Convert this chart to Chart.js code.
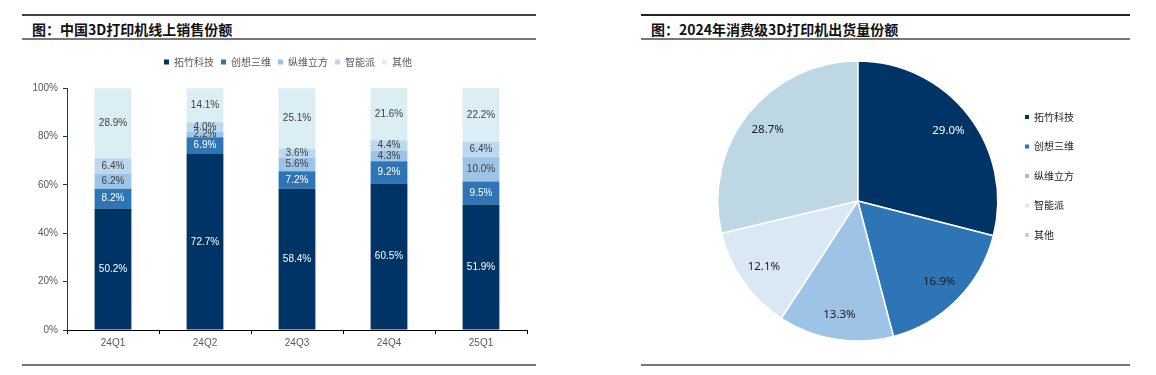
<!DOCTYPE html>
<html>
<head>
<meta charset="utf-8">
<script src="https://cdn.jsdelivr.net/npm/chart.js@4.4.1/dist/chart.umd.min.js"></script>
<style>
  body { margin: 0; width: 1156px; height: 375px; background: #fff; position: relative; overflow: hidden; font-family: "Noto Sans CJK SC", sans-serif; }
  .rule { position: absolute; height: 2px; }
  .title { position: absolute; font-weight: bold; font-size: 14px; line-height: 16px; color: #111; white-space: nowrap; }
  canvas { position: absolute; }
</style>
</head>
<body>
<!-- 左图标题栏 -->
<div class="rule" style="left:22px; width:514px; top:14px; background:#444"></div>
<div class="title" style="left:32px; top:21px">图：中国3D打印机线上销售份额</div>
<div class="rule" style="left:22px; width:514px; top:38px; background:#777"></div>
<div class="rule" style="left:22px; width:514px; top:364px; background:#777"></div>

<!-- 右图标题栏 -->
<div class="rule" style="left:641px; width:489px; top:14px; background:#222"></div>
<div class="title" style="left:651px; top:21px">图：2024年消费级3D打印机出货量份额</div>
<div class="rule" style="left:641px; width:489px; top:38px; background:#777"></div>
<div class="rule" style="left:641px; width:489px; top:364px; background:#777"></div>

<canvas id="barChart" width="560" height="375" style="left:0; top:0"></canvas>
<canvas id="pieChart" width="456" height="300" style="left:700px; top:55px"></canvas>

<script>
// ==================== 数据 ====================

// 线上销售份额（%）
const quarters = ['24Q1', '24Q2', '24Q3', '24Q4', '25Q1']
const brands = ['拓竹科技', '创想三维', '纵维立方', '智能派', '其他']
const bambuShare = [50.2, 72.7, 58.4, 60.5, 51.9]
const crealityShare = [8.2, 6.9, 7.2, 9.2, 9.5]
const anycubicShare = [6.2, 2.2, 5.6, 4.3, 10.0]
const elegooShare = [6.4, 4.0, 3.6, 4.4, 6.4]
const otherShare = [28.9, 14.1, 25.1, 21.6, 22.2]
const yMax = 100
const yStep = 20

// 2024年消费级出货量份额（%）
const shipmentShare = [29.0, 16.9, 13.3, 12.1, 28.7]

// 配色
const BAR_COLORS = ['#003366', '#2e75b6', '#9dc3e6', '#bdd7ee', '#daeef3']
const PIE_COLORS = ['#003366', '#2e75b6', '#9dc3e6', '#dae8f5', '#bdd7e4']

const AXIS_FONT = { family: '"Liberation Sans", Arial, sans-serif', size: 10 }
const CJK_FONT = '"Noto Sans CJK SC", sans-serif'

// ==================== 标签插件 ====================

// 柱内数值标签
const barValueLabels = {
  id: 'barValueLabels',
  afterDatasetsDraw(chart) {
    const ctx = chart.ctx
    ctx.save()
    ctx.font = '10px "Liberation Sans", Arial, sans-serif'
    ctx.textAlign = 'center'
    ctx.textBaseline = 'middle'
    chart.data.datasets.forEach((ds, i) => {
      chart.getDatasetMeta(i).data.forEach((bar, j) => {
        const { x, y, base } = bar.getProps(['x', 'y', 'base'], true)
        ctx.fillStyle = i < 2 ? '#ffffff' : '#404040'
        ctx.fillText(ds.data[j].toFixed(1) + '%', x, (y + base) / 2)
      })
    })
    ctx.restore()
  }
}

// 饼图数值标签
const pieValueLabels = {
  id: 'pieValueLabels',
  afterDatasetsDraw(chart) {
    const ctx = chart.ctx
    const ds = chart.data.datasets[0]
    ctx.save()
    ctx.font = '11.5px "Noto Sans", "Open Sans", sans-serif'
    ctx.textAlign = 'center'
    ctx.textBaseline = 'middle'
    chart.getDatasetMeta(0).data.forEach((arc, i) => {
      const { x, y, startAngle, endAngle, outerRadius } =
        arc.getProps(['x', 'y', 'startAngle', 'endAngle', 'outerRadius'], true)
      const mid = (startAngle + endAngle) / 2
      const r = outerRadius * 0.82
      ctx.fillStyle = i === 0 ? '#ffffff' : '#1a1a1a'
      ctx.fillText(ds.data[i].toFixed(1) + '%', x + Math.cos(mid) * r, y + Math.sin(mid) * r)
    })
    ctx.restore()
  }
}

// ==================== 左图：堆积柱状图 ====================

const barSeries = [bambuShare, crealityShare, anycubicShare, elegooShare, otherShare]

new Chart(document.getElementById('barChart'), {
  type: 'bar',
  data: {
    labels: quarters,
    datasets: barSeries.map((data, i) => ({
      label: brands[i],
      data,
      backgroundColor: BAR_COLORS[i],
      borderWidth: 0,
      categoryPercentage: 1,
      barPercentage: 0.4
    }))
  },
  options: {
    responsive: false,
    animation: false,
    layout: { padding: { left: 28, right: 12, top: 50, bottom: 25 } },
    plugins: {
      legend: {
        position: 'top',
        labels: {
          boxWidth: 5,
          boxHeight: 5,
          padding: 7,
          color: '#595959',
          font: { family: CJK_FONT, size: 10 }
        }
      },
      // 图例与绘图区之间的留白
      title: {
        display: true,
        text: '',
        weight: 10,
        font: { size: 1, lineHeight: 1 },
        padding: { top: 10, bottom: 0 }
      },
      tooltip: { enabled: false }
    },
    scales: {
      x: {
        stacked: true,
        grid: { display: true, offset: true, drawOnChartArea: false, drawTicks: true, tickLength: 4, color: '#000' },
        border: { color: '#000', width: 1 },
        ticks: { color: '#595959', font: AXIS_FONT, padding: 3 },
        afterFit: s => { s.height = 20 }
      },
      y: {
        stacked: true,
        min: 0,
        max: yMax,
        grid: { display: true, drawOnChartArea: false, drawTicks: true, tickLength: 4, color: '#1f3864' },
        border: { color: '#1f3864', width: 1 },
        ticks: { stepSize: yStep, color: '#595959', font: AXIS_FONT, padding: 5, callback: v => v + '%' },
        afterFit: s => { s.width = 39 }
      },
      // 右侧留白（不显示）
      yPad: {
        position: 'right',
        display: true,
        grid: { display: false },
        border: { display: false },
        ticks: { display: false },
        afterFit: s => { s.width = 21 }
      }
    }
  },
  plugins: [barValueLabels]
})

// ==================== 右图：饼图 ====================

new Chart(document.getElementById('pieChart'), {
  type: 'pie',
  data: {
    labels: brands,
    datasets: [{
      data: shipmentShare,
      backgroundColor: PIE_COLORS,
      borderColor: '#ffffff',
      borderWidth: 1.5,
      radius: 140
    }]
  },
  options: {
    responsive: false,
    animation: false,
    layout: { padding: { left: 10, right: 72, top: 0, bottom: 8 } },
    plugins: {
      legend: {
        position: 'right',
        align: 'start',
        title: { display: true, text: '', font: { size: 10 }, padding: { top: 25.5, bottom: 0 } },
        labels: {
          boxWidth: 4,
          boxHeight: 4,
          padding: 19.5,
          color: '#222',
          font: { family: CJK_FONT, size: 10 },
          generateLabels: chart =>
            Chart.overrides.pie.plugins.legend.labels.generateLabels(chart)
              .map(item => ({ ...item, lineWidth: 0 }))
        }
      },
      tooltip: { enabled: false }
    }
  },
  plugins: [pieValueLabels]
})
</script>
</body>
</html>
